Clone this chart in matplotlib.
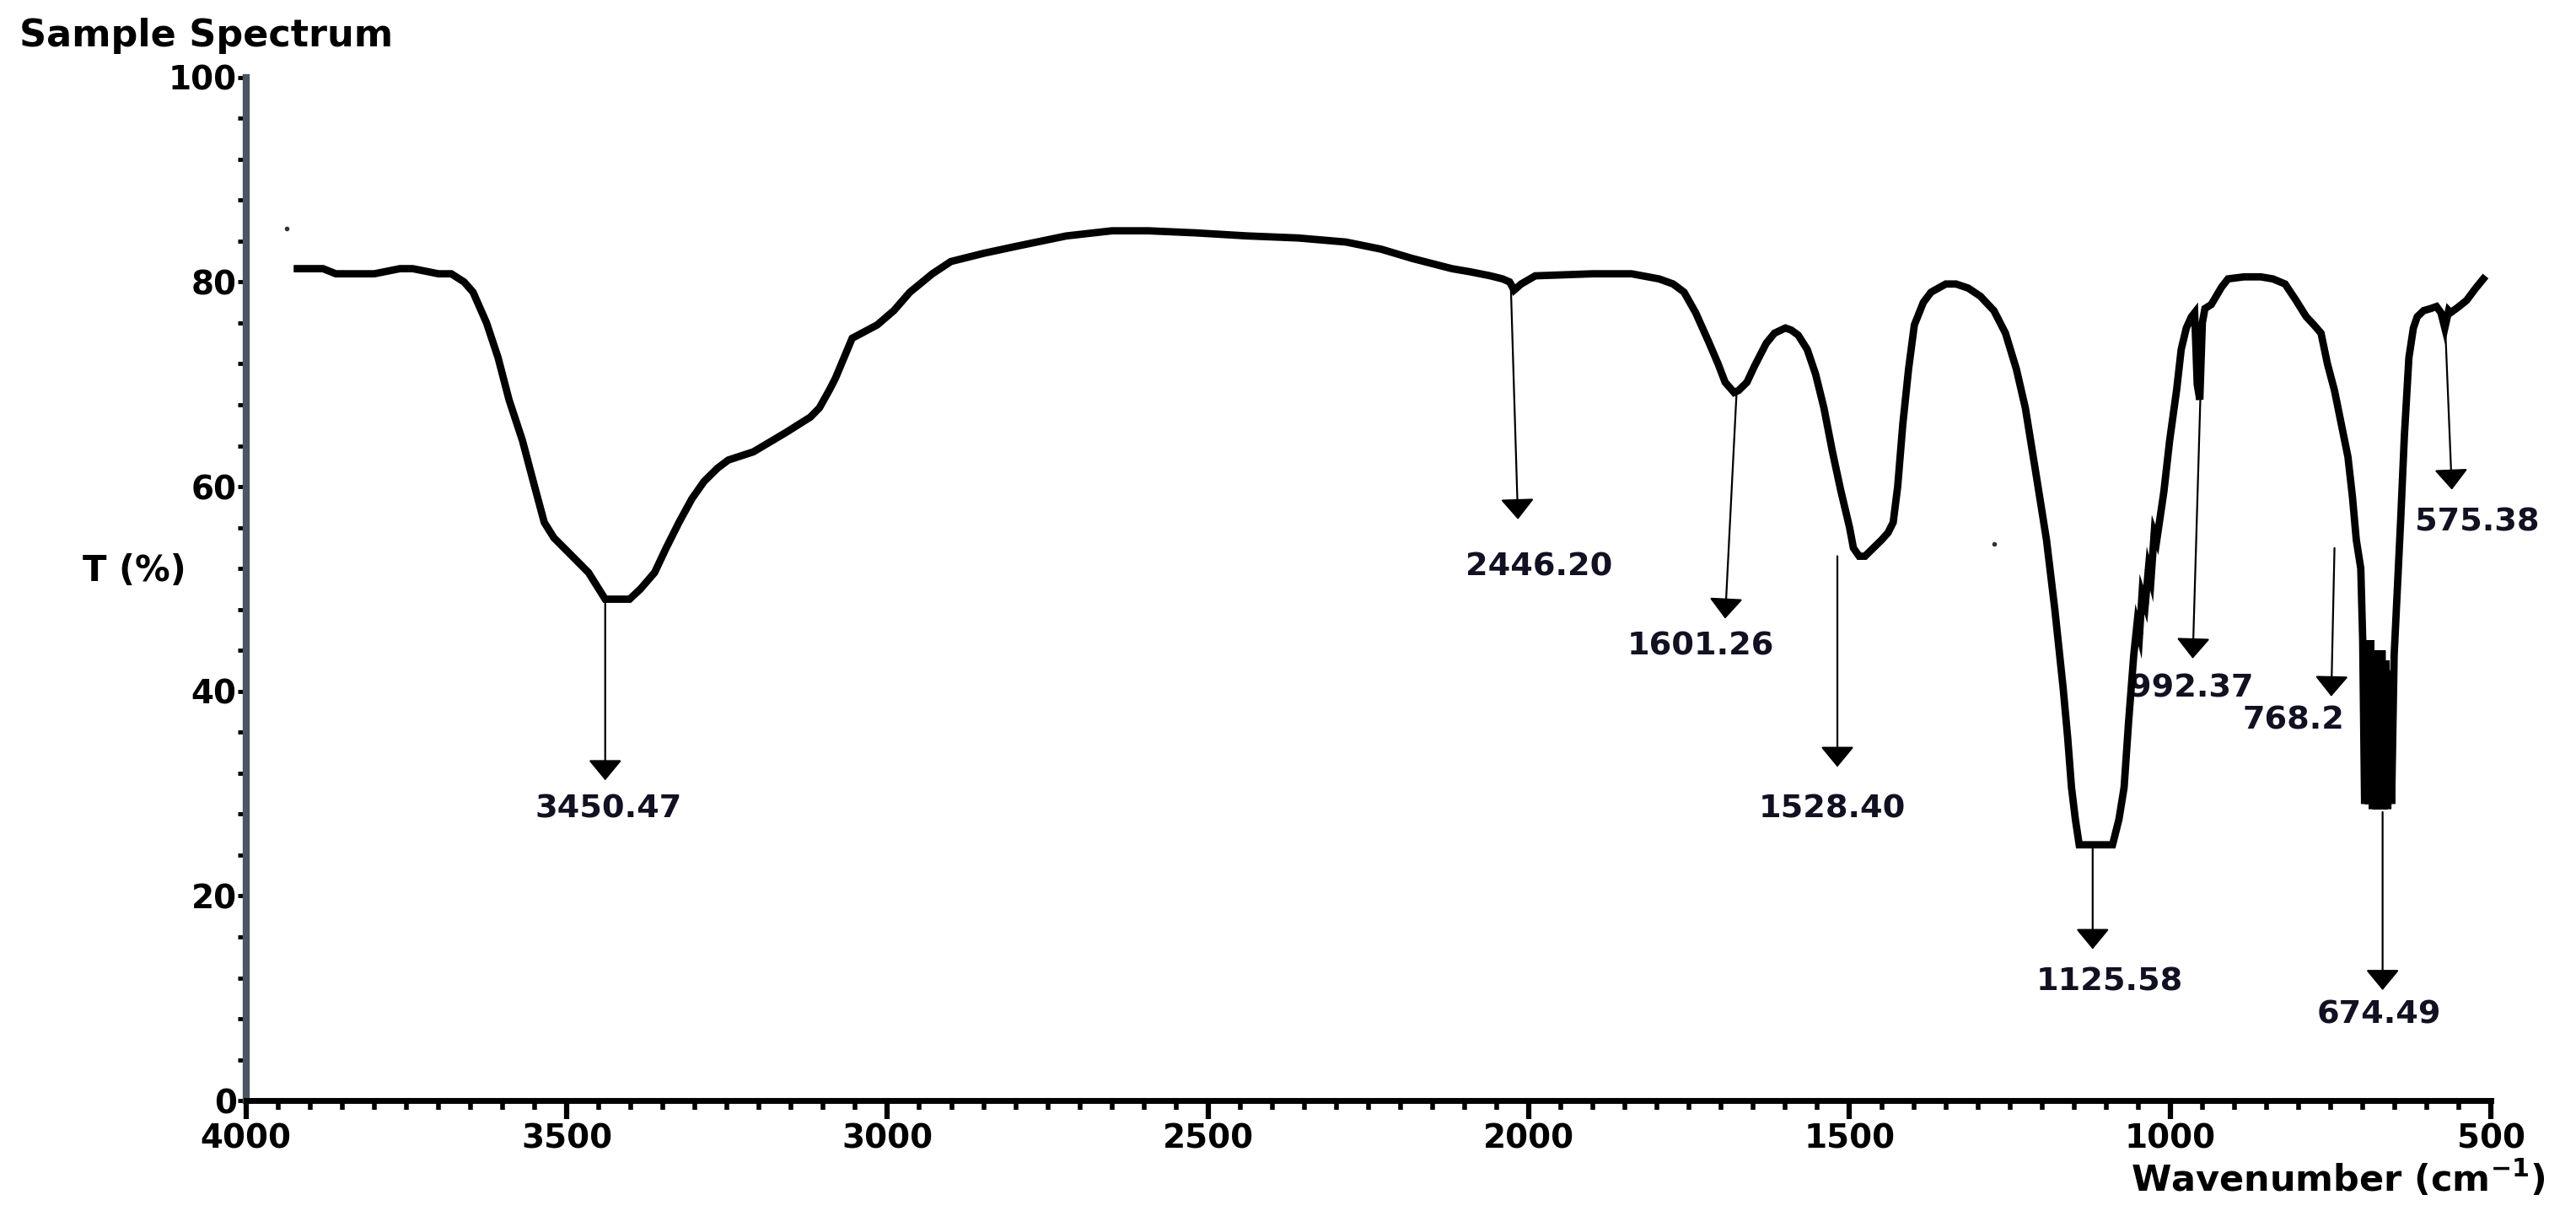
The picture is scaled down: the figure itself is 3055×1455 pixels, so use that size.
#!/usr/bin/env python3
"""
FTIR transmittance spectrum with labelled absorption bands
"""

import matplotlib
matplotlib.use('Agg')
import matplotlib.pyplot as plt
from matplotlib.ticker import MultipleLocator

# Spectrum trace (wavenumber in cm-1, transmittance in %)
# rows of 12 kept aligned between the two lists
wavenumber = [3920, 3880, 3860, 3800, 3760, 3740, 3700, 3680, 3660, 3646, 3625, 3607,
              3590, 3569, 3550, 3535, 3520, 3504, 3485, 3466, 3450, 3440, 3420, 3402,
              3385, 3363, 3345, 3325, 3305, 3286, 3265, 3248, 3209, 3158, 3120, 3106,
              3090, 3081, 3065, 3055, 3016, 2990, 2965, 2930, 2901, 2850, 2798, 2721,
              2650, 2593, 2520, 2439, 2360, 2285, 2230, 2182, 2120, 2092, 2060, 2041,
              2030, 2023, 2012, 1990, 1900, 1840, 1797, 1775, 1758, 1740, 1720, 1705,
              1694, 1680, 1673, 1660, 1648, 1630, 1617, 1600, 1591, 1580, 1566, 1553,
              1540, 1527, 1514, 1500, 1494, 1485, 1476, 1463, 1450, 1440, 1432, 1425,
              1417, 1408, 1399, 1385, 1373, 1350, 1334, 1315, 1296, 1275, 1257, 1240,
              1226, 1210, 1193, 1180, 1167, 1160, 1154, 1148, 1142, 1120, 1100, 1090,
              1080, 1072, 1065, 1057, 1052, 1048, 1044, 1039, 1034, 1030, 1025, 1021,
              1010, 1001, 990, 983, 975, 967, 962, 958, 954, 950, 946, 936,
              920, 910, 885, 859, 840, 821, 805, 788, 776, 765, 755, 744,
              733, 723, 716, 710, 703, 700, 697, 694, 691, 688, 685, 682,
              679, 676, 673, 670, 667, 664, 661, 658, 655, 651, 646, 641,
              635, 628, 621, 615, 605, 594, 585, 578, 572, 566, 563, 552,
              538, 525, 512]
transmittance = [81.3, 81.3, 80.8, 80.8, 81.3, 81.3, 80.8, 80.8, 80.0, 79.0, 76.0, 72.6,
                 68.5, 64.5, 60.0, 56.5, 55.0, 54.0, 52.8, 51.6, 50.0, 49.0, 49.0, 49.0,
                 50.0, 51.6, 54.0, 56.5, 58.8, 60.5, 61.8, 62.6, 63.4, 65.3, 66.8, 67.7,
                 69.5, 70.6, 73.0, 74.5, 75.8, 77.2, 79.0, 80.8, 82.0, 82.8, 83.5, 84.5,
                 85.0, 85.0, 84.8, 84.5, 84.3, 83.9, 83.2, 82.3, 81.3, 81.0, 80.6, 80.3,
                 80.0, 79.2, 79.8, 80.6, 80.8, 80.8, 80.3, 79.8, 79.0, 77.0, 74.2, 72.0,
                 70.2, 69.2, 69.4, 70.2, 71.8, 74.0, 75.0, 75.5, 75.3, 74.8, 73.4, 71.0,
                 67.7, 63.5, 59.7, 56.0, 54.0, 53.2, 53.2, 54.0, 54.8, 55.5, 56.5, 60.0,
                 66.1, 71.5, 75.8, 78.0, 79.0, 79.8, 79.8, 79.4, 78.6, 77.2, 75.0, 71.5,
                 67.7, 61.5, 54.8, 48.0, 40.3, 35.5, 30.6, 27.5, 25.0, 25.0, 25.0, 25.0,
                 27.5, 30.6, 37.0, 43.5, 46.5, 45.5, 49.5, 48.5, 52.0, 51.0, 55.5, 54.8,
                 59.5, 64.5, 69.5, 73.4, 75.5, 76.6, 77.0, 70.0, 68.5, 76.0, 77.4, 77.8,
                 79.5, 80.3, 80.5, 80.5, 80.3, 79.8, 78.3, 76.6, 75.8, 75.0, 72.0, 69.4,
                 66.0, 62.9, 59.0, 54.8, 52.0, 45.0, 29.0, 45.0, 29.0, 45.0, 28.5, 44.0,
                 28.5, 44.0, 28.5, 44.0, 28.5, 43.0, 28.5, 42.0, 29.0, 43.5, 50.0, 56.5,
                 65.0, 72.6, 75.5, 76.6, 77.2, 77.4, 77.6, 77.0, 75.5, 77.2, 77.0, 77.5,
                 78.2, 79.3, 80.3]

# stray specks in the scan
speck_x = [3936, 1275]
speck_y = [85.2, 54.4]

# peak annotations: arrow from curve to tip, label below the tip
peak_labels = ['3450.47', '2446.20', '1601.26', '1528.40', '1125.58',
               '992.37', '768.2', '674.49', '575.38']
arrow_from_x = [3440, 2028, 1676, 1519, 1121, 952, 744, 669, 572]
arrow_from_y = [49.0, 79.4, 69.4, 53.2, 25.0, 71.0, 54.0, 28.2, 76.6]
arrow_to_x = [3440, 2017, 1694, 1519, 1121, 965, 749, 669, 561]
arrow_to_y = [31.3, 56.8, 47.1, 32.6, 14.8, 43.2, 39.5, 10.8, 59.7]
label_x = [3435, 1984, 1732, 1527, 1095, 967, 808, 674, 522]
label_y = [28.5, 52.1, 44.4, 28.5, 11.6, 40.3, 37.1, 8.4, 56.5]

FONT = ['DejaVu Sans']


def main():
    fig = plt.figure(figsize=(30.55, 14.55), dpi=100)
    ax = fig.add_axes([0.0955, 0.103, 0.8715, 0.834])

    # peak annotations first so the thick trace sits on top of them
    for i, lab in enumerate(peak_labels):
        ax.annotate('', xy=(arrow_to_x[i], arrow_to_y[i]),
                    xytext=(arrow_from_x[i], arrow_from_y[i]),
                    arrowprops=dict(arrowstyle='-|>,head_length=0.4,head_width=0.33',
                                    color='black', lw=1.6, mutation_scale=38,
                                    shrinkA=0, shrinkB=0),
                    zorder=2)
        ax.text(label_x[i], label_y[i], lab, ha='center', va='center',
                fontsize=27.5, fontweight='bold', color='#111122',
                family=FONT, zorder=1)

    ax.plot(wavenumber, transmittance, color='black', lw=6.3, solid_joinstyle='miter',
            zorder=3)
    ax.plot(speck_x, speck_y, ls='none', marker='o', ms=3, color='#333333', zorder=3)

    ax.set_xlim(4000, 500)
    ax.set_ylim(0, 100)

    ax.spines['top'].set_visible(False)
    ax.spines['right'].set_visible(False)
    ax.spines['left'].set_color('#4a5663')
    ax.spines['left'].set_linewidth(6)
    ax.spines['bottom'].set_color('black')
    ax.spines['bottom'].set_linewidth(5)

    ax.xaxis.set_major_locator(MultipleLocator(500))
    ax.xaxis.set_minor_locator(MultipleLocator(50))
    ax.yaxis.set_major_locator(MultipleLocator(20))
    ax.yaxis.set_minor_locator(MultipleLocator(4))

    ax.tick_params(axis='x', which='major', direction='out', length=16, width=4.5,
                   color='black', pad=3)
    ax.tick_params(axis='x', which='minor', direction='out', length=8, width=4,
                   color='black')
    ax.tick_params(axis='y', which='both', direction='out', length=7, width=3.5,
                   color='black', pad=1)

    for t in ax.get_xticklabels() + ax.get_yticklabels():
        t.set_family(FONT)
        t.set_fontsize(28)
        t.set_fontweight('bold')

    fig.text(0.0075, 0.971, 'Sample Spectrum', ha='left', va='center',
             fontsize=32, fontweight='bold', family=FONT)
    fig.text(0.032, 0.535, 'T (%)', ha='left', va='center',
             fontsize=30, fontweight='bold', family=FONT)
    fig.text(0.988, 0.039, r'Wavenumber (cm$^{\mathbf{-1}}$)', ha='right', va='center',
             fontsize=31, fontweight='bold', family=FONT)

    fig.savefig('out.png', dpi=100, facecolor='white')


if __name__ == "__main__":
    main()
